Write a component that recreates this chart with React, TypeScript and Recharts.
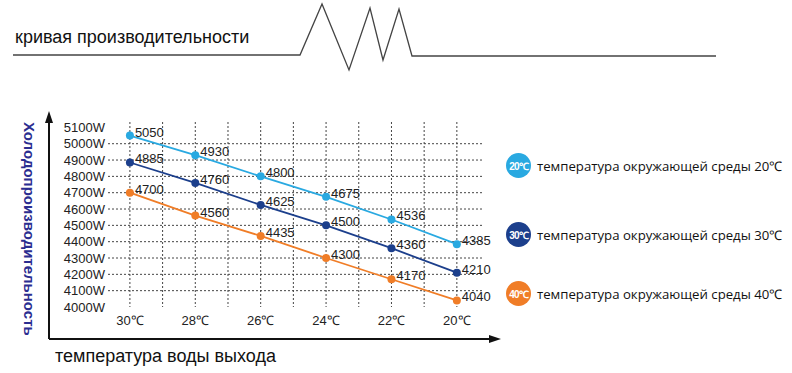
import React from "react";
import {
  LineChart,
  Line,
  XAxis,
  YAxis,
  CartesianGrid,
  LabelList,
  Legend,
} from "recharts";

const waterTemps = [30, 28, 26, 24, 22, 20];
const ambient20 = [5050, 4930, 4800, 4675, 4536, 4385];
const ambient30 = [4885, 4760, 4625, 4500, 4360, 4210];
const ambient40 = [4700, 4560, 4435, 4300, 4170, 4040];
const yTicks = [4000, 4100, 4200, 4300, 4400, 4500, 4600, 4700, 4800, 4900, 5000, 5100];
const gridY = [4100, 4200, 4300, 4400, 4500, 4600, 4700, 4800, 4900, 5000];
const gridX = [20, 21, 22, 23, 24, 25, 26, 27, 28, 29, 30];

const series = [
  { key: "a20", label: "20℃", name: "температура окружающей среды 20℃", color: "#29a9e1", top: 153 },
  { key: "a30", label: "30℃", name: "температура окружающей среды 30℃", color: "#1c3f8c", top: 222 },
  { key: "a40", label: "40℃", name: "температура окружающей среды 40℃", color: "#f07d27", top: 281 },
];

const data = waterTemps.map((t, i) => ({
  t,
  a20: ambient20[i],
  a30: ambient30[i],
  a40: ambient40[i],
}));

const FONT = "Arial, 'Liberation Sans', sans-serif";

function PointLabel(props: any) {
  const { x, y, value } = props;
  return (
    <text x={x + 5} y={y + 1} fontSize={13} fontFamily={FONT} fill="#222">
      {value}
    </text>
  );
}

function LegendBox() {
  return (
    <div>
      {series.map((s) => (
        <div
          key={s.key}
          style={{
            position: "absolute",
            left: 506,
            top: s.top,
            display: "flex",
            alignItems: "center",
            whiteSpace: "nowrap",
          }}
        >
          <div
            style={{
              width: 25,
              height: 25,
              borderRadius: "50%",
              background: s.color,
              color: "#fff",
              fontSize: 10,
              fontWeight: 700,
              fontFamily: FONT,
              display: "flex",
              alignItems: "center",
              justifyContent: "center",
              letterSpacing: -0.8,
            }}
          >
            {s.label}
          </div>
          <span
            style={{
              marginLeft: 6,
              fontSize: 13.2,
              fontFamily: "'Open Sans', sans-serif",
              color: "#111",
            }}
          >
            {s.name}
          </span>
        </div>
      ))}
    </div>
  );
}

export default function App() {
  return (
    <div style={{ position: "relative", width: 792, height: 373, background: "#fff", overflow: "hidden" }}>
      <style>{`body{margin:0}`}</style>
      <svg width={792} height={373} style={{ position: "absolute", left: 0, top: 0 }}>
        <text x={15} y={43} fontSize={18} fontFamily={FONT} fill="#111">
          кривая производительности
        </text>
        <polyline
          points="13,55 300,55 322,4 349,70 370,8 383,60 399,9 412,56 716,56"
          fill="none"
          stroke="#444"
          strokeWidth={1.3}
        />
        <line x1={49} y1={339} x2={49} y2={120} stroke="#111" strokeWidth={2} />
        <polygon points="49,111 45,123 53,123" fill="#111" />
        <line x1={49} y1={339} x2={490} y2={339} stroke="#111" strokeWidth={2} />
        <polygon points="501,339 489,335 489,343" fill="#111" />
        <text
          transform="translate(24,122) rotate(90)"
          fontSize={15}
          fontWeight={700}
          fontFamily={FONT}
          fill="#2b2d90"
        >
          Холодопроизводительность
        </text>
        <text x={55} y={362} fontSize={18} fontFamily={FONT} fill="#111">
          температура воды выхода
        </text>
      </svg>
      <div style={{ position: "absolute", left: 0, top: 0 }}>
        <LineChart
          width={792}
          height={373}
          data={data}
          margin={{ top: 122, right: 309, bottom: 36, left: 48 }}
        >
          <CartesianGrid
            stroke="#444"
            strokeDasharray="2 2"
            horizontalValues={gridY}
            verticalValues={gridX}
          />
          <XAxis
            dataKey="t"
            type="number"
            domain={[19.2, 30.67]}
            reversed
            ticks={gridX}
            interval={0}
            tickFormatter={(v: number) => (v % 2 === 0 ? `${v}℃` : "")}
            axisLine={false}
            tickLine={false}
            tickSize={4}
            tickMargin={5}
            tick={{ fontSize: 13, fontFamily: FONT, fill: "#222" }}
            allowDataOverflow
          />
          <YAxis
            type="number"
            domain={[4000, 5133]}
            ticks={yTicks}
            interval={0}
            width={60}
            tickFormatter={(v: number) => `${v}W`}
            axisLine={false}
            tickLine={false}
            tickSize={3}
            tickMargin={0}
            tick={{ fontSize: 13, fontFamily: FONT, fill: "#222" }}
            allowDataOverflow
          />
          <Legend content={<LegendBox />} wrapperStyle={{ position: "absolute", left: 0, top: 0, width: 0, height: 0 }} />
          {series.map((s) => (
            <Line
              key={s.key}
              dataKey={s.key}
              name={s.name}
              stroke={s.color}
              strokeWidth={1.8}
              dot={{ r: 4, fill: s.color, stroke: "none" }}
              isAnimationActive={false}
            >
              <LabelList dataKey={s.key} content={<PointLabel />} />
            </Line>
          ))}
        </LineChart>
      </div>
    </div>
  );
}
